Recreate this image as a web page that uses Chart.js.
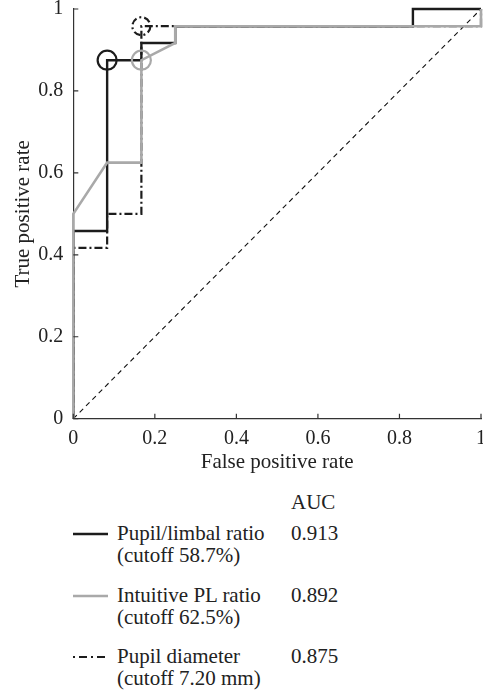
<!DOCTYPE html>
<html><head><meta charset="utf-8">
<script src="https://cdn.jsdelivr.net/npm/chart.js@4/dist/chart.umd.min.js"></script>
<style>
html,body{margin:0;padding:0;background:#fff;overflow:hidden;width:483px;height:690px;position:relative}
#wrap{position:absolute;left:0;top:-5px;width:495px;height:485px}
.t{position:absolute;font-family:'Liberation Serif','Times New Roman',serif;font-size:21px;line-height:21px;color:#222;white-space:nowrap}
svg.s{position:absolute;overflow:visible}
</style></head><body>
<div id="wrap"><canvas id="c"></canvas></div>
<div id="legend"></div>
<script>
// ---- data ----
const fprPupilLimbal = [0, 0, 0.083, 0.083, 0.167, 0.167, 0.25, 0.25, 0.833, 0.833, 1];
const tprPupilLimbal = [0, 0.458, 0.458, 0.875, 0.875, 0.917, 0.917, 0.958, 0.958, 1, 1];
const fprIntuitive = [0, 0, 0.083, 0.167, 0.167, 0.25, 0.25, 1, 1];
const tprIntuitive = [0, 0.5, 0.625, 0.625, 0.875, 0.917, 0.958, 0.958, 1];
const fprDiameter = [0, 0, 0.083, 0.083, 0.167, 0.167, 1, 1];
const tprDiameter = [0, 0.417, 0.417, 0.5, 0.5, 0.958, 0.958, 1];
const chanceFpr = [0, 1];
const chanceTpr = [0, 1];
const cutoffPupilLimbal = [0.083, 0.875];
const cutoffIntuitive = [0.167, 0.875];
const cutoffDiameter = [0.167, 0.958];
const xTickLabels = ['0', '0.2', '0.4', '0.6', '0.8', '1'];
const yTickLabels = ['0', '0.2', '0.4', '0.6', '0.8', '1'];
const seriesNames = ['Pupil/limbal ratio', 'Intuitive PL ratio', 'Pupil diameter'];
const seriesCutoffs = ['(cutoff 58.7%)', '(cutoff 62.5%)', '(cutoff 7.20 mm)'];
const seriesAUC = ['0.913', '0.892', '0.875'];
const xTitle = 'False positive rate';
const yTitle = 'True positive rate';
const aucHeader = 'AUC';

// ---- styles ----
const BLACK = '#1c1c1c', GRAY = '#a9a9a9';
const DASHDOT = [8, 3, 2, 3];
const FONT = "'Liberation Serif','Times New Roman',serif";

const pts = (xs, ys) => xs.map((x, i) => ({x, y: ys[i]}));

const marker = (p, color, order, visible) => ({
  data: [{x: p[0], y: p[1]}], showLine: false, order, clip: false,
  pointRadius: visible ? 9.5 : 0, pointHoverRadius: 0, pointStyle: 'circle',
  pointBorderColor: color, pointBackgroundColor: 'rgba(0,0,0,0)', pointBorderWidth: 2.2
});

const datasets = [
  {data: pts(chanceFpr, chanceTpr), showLine: true, borderColor: '#111', borderWidth: 1.1, borderDash: [5, 4], pointRadius: 0, order: 9},
  {data: pts(fprDiameter, tprDiameter), showLine: true, clip: false, borderColor: BLACK, borderWidth: 2.2, borderDash: DASHDOT, pointRadius: 0, order: 8},
  {data: pts(fprPupilLimbal, tprPupilLimbal), showLine: true, clip: false, borderColor: BLACK, borderWidth: 2.4, pointRadius: 0, order: 7},
  {data: pts(fprIntuitive, tprIntuitive), showLine: true, clip: false, borderColor: GRAY, borderWidth: 2.6, pointRadius: 0, order: 6},
  marker(cutoffPupilLimbal, BLACK, 3, true),
  marker(cutoffIntuitive, GRAY, 2, true),
  Object.assign(marker(cutoffDiameter, BLACK, 1, false), {dashMarker: true})
];

const extras = {
  id: 'extras',
  afterDatasetsDraw(chart) {
    const ctx = chart.ctx;
    chart.data.datasets.forEach((ds, i) => {
      if (!ds.dashMarker) return;
      const el = chart.getDatasetMeta(i).data[0];
      ctx.save();
      ctx.strokeStyle = BLACK; ctx.lineWidth = 2.2; ctx.setLineDash([7, 3, 2, 3]);
      ctx.beginPath(); ctx.arc(el.x, el.y, 9, 0, Math.PI * 2); ctx.stroke();
      ctx.restore();
    });
  },
  afterDraw(chart) {
    const ctx = chart.ctx, xs = chart.scales.x, ys = chart.scales.y;
    ctx.save(); ctx.strokeStyle = '#333'; ctx.lineWidth = 1.2;
    ctx.beginPath();
    xs.ticks.forEach(t => { const px = xs.getPixelForValue(t.value); ctx.moveTo(px, ys.bottom); ctx.lineTo(px, ys.bottom - 5); });
    ys.ticks.forEach(t => { const py = ys.getPixelForValue(t.value); ctx.moveTo(xs.left, py); ctx.lineTo(xs.left + 5, py); });
    ctx.stroke(); ctx.restore();
  }
};

new Chart(document.getElementById('c'), {
  type: 'scatter',
  data: {datasets},
  options: {
    responsive: true, maintainAspectRatio: false, animation: false, devicePixelRatio: 1,
    layout: {autoPadding: false, padding: {top: 4, right: 14, bottom: 0, left: 0}},
    plugins: {legend: {display: false}, tooltip: {enabled: false}},
    scales: {
      x: {
        type: 'linear', min: 0, max: 1,
        afterFit: s => { s.height = 61.3; },
        grid: {display: false},
        border: {display: true, color: '#333', width: 1.2},
        ticks: {stepSize: 0.2, padding: 0, color: '#222', font: {family: FONT, size: 20}, maxRotation: 0,
          callback: (v, i) => xTickLabels[i]},
        title: {display: true, text: xTitle, color: '#222', font: {family: FONT, size: 21}, padding: {top: 0, bottom: 5}}
      },
      y: {
        type: 'linear', min: 0, max: 1,
        afterFit: s => { s.width = 73.3; },
        grid: {display: false},
        border: {display: true, color: '#333', width: 1.2},
        ticks: {stepSize: 0.2, padding: 2, color: '#222', font: {family: FONT, size: 20},
          callback: (v, i) => yTickLabels[i]},
        title: {display: true, text: yTitle, color: '#222', font: {family: FONT, size: 21}, padding: {top: 11, bottom: 0}}
      }
    }
  },
  plugins: [extras]
});

// ---- HTML legend ----
const leg = document.getElementById('legend');
const add = (txt, x, baseline) => {
  const d = document.createElement('div'); d.className = 't'; d.textContent = txt;
  d.style.left = x + 'px'; d.style.top = (baseline - 17.6) + 'px'; leg.appendChild(d);
};
const sampleStyles = [
  {color: BLACK, width: 2.4, dash: ''},
  {color: GRAY, width: 2.6, dash: ''},
  {color: BLACK, width: 2.2, dash: '2 4 8 4'}
];
const rowBase = [541, 603, 664];
const rowLineY = [534, 596, 657];
add(aucHeader, 291, 510);
seriesNames.forEach((n, i) => {
  add(n, 117, rowBase[i]);
  add(seriesCutoffs[i], 117, rowBase[i] + 21.5);
  add(seriesAUC[i], 291, rowBase[i]);
  const st = sampleStyles[i];
  const svg = document.createElementNS('http://www.w3.org/2000/svg', 'svg');
  svg.setAttribute('class', 's'); svg.setAttribute('width', 40); svg.setAttribute('height', 6);
  svg.style.left = '72px'; svg.style.top = (rowLineY[i] - 3) + 'px';
  const ln = document.createElementNS('http://www.w3.org/2000/svg', 'line');
  ln.setAttribute('x1', 1); ln.setAttribute('x2', 36); ln.setAttribute('y1', 3); ln.setAttribute('y2', 3);
  ln.setAttribute('stroke', st.color); ln.setAttribute('stroke-width', st.width);
  if (st.dash) ln.setAttribute('stroke-dasharray', st.dash);
  svg.appendChild(ln); leg.appendChild(svg);
});
</script>
</body></html>
